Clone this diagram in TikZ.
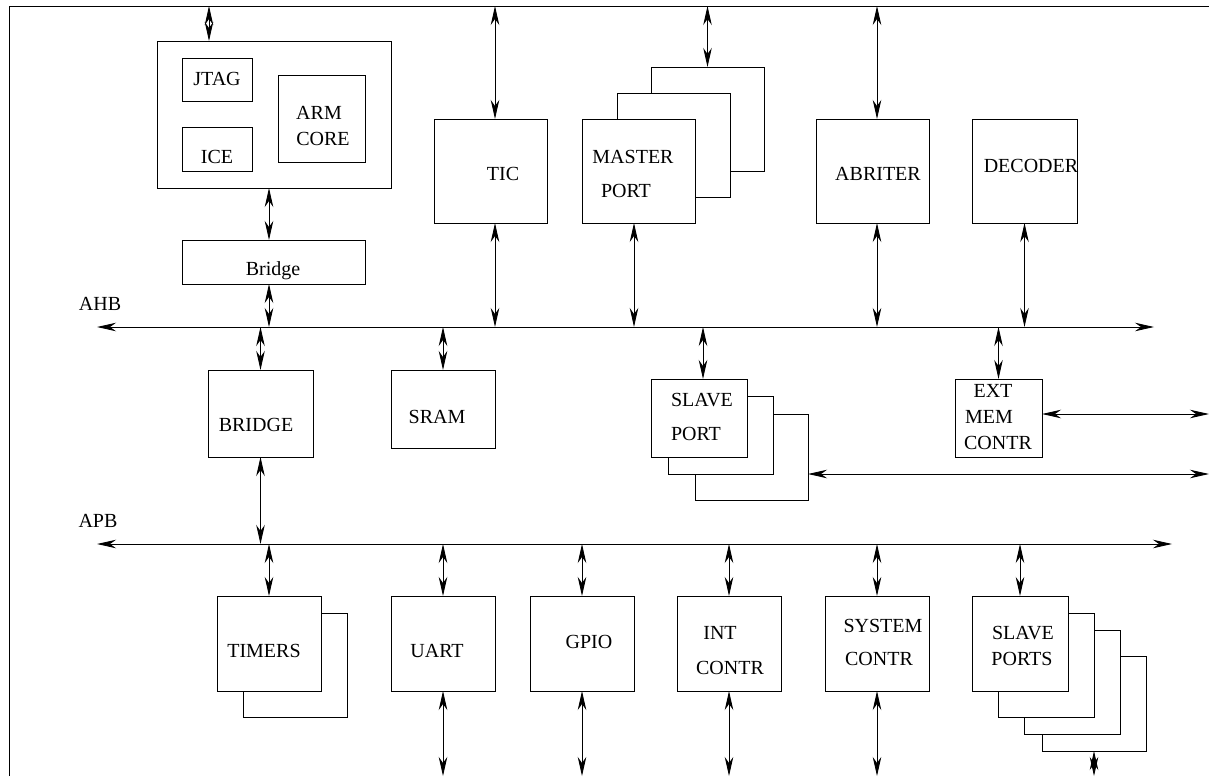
\documentclass[tikz,border=0pt]{standalone}
\usepackage{fontspec}
\setmainfont{Liberation Serif}
\usetikzlibrary{arrows.meta}

\begin{document}
\begin{tikzpicture}[x=1pt,y=-1pt,line width=0.9pt,
  box/.style={draw,fill=white,inner sep=0pt,outer sep=0pt},
  lbl/.style={anchor=base,inner sep=0pt,font=\fontsize{20}{24}\selectfont},
  link/.style={{Stealth[length=19pt,width=8.5pt,inset=6pt]}-{Stealth[length=19pt,width=8.5pt,inset=6pt]}}]
\useasboundingbox (0,0) rectangle (1209,776);

% frame
\draw (9,776) -- (9,6) -- (1209,6);

\coordinate (top) at (0,6);
\coordinate (bot) at (0,776);
\coordinate (rgt) at (1209,0);
\coordinate (coretop) at (209,6);

% buses
\coordinate (ahbL) at (97,327);
\coordinate (ahbR) at (1154,327);
\coordinate (apbL) at (97,544);
\coordinate (apbR) at (1172,544);
\draw[link] (ahbL) -- (ahbR);
\draw[link] (apbL) -- (apbR);
\node[lbl] (ahb) at (100,310) {AHB};
\node[lbl] (apb) at (98,527) {APB};

% arm core
\node[box,minimum width=234pt,minimum height=147pt] (core) at (274,114.5) {};
\node[box,minimum width=70pt,minimum height=43pt] (jtag) at (217,79.5) {};
\node[box,minimum width=70pt,minimum height=44pt] (ice) at (217,149) {};
\node[box,minimum width=87pt,minimum height=87pt] (arm) at (321.5,118.5) {};
\node[lbl] (t-jtag) at (217,85) {JTAG};
\node[lbl] (t-ice) at (217,163) {ICE};
\node[lbl] (t-arm) at (319,119) {ARM};
\node[lbl] (t-core) at (323,145) {CORE};
\node[box,minimum width=183pt,minimum height=44pt] (bridgeA) at (273.5,262) {};
\node[lbl] (t-bridgeA) at (273,275) {Bridge};

% ahb masters
\node[box,minimum width=113pt,minimum height=104pt] (tic) at (490.5,171) {};
\node[lbl] (t-tic) at (503,180) {TIC};
\node[box,minimum width=113pt,minimum height=104pt] (mport3) at (707.5,119) {};
\node[box,minimum width=113pt,minimum height=104pt] (mport2) at (673.5,145) {};
\node[box,minimum width=113pt,minimum height=104pt] (mport1) at (638.5,171) {};
\node[lbl] (t-master) at (633,163) {MASTER};
\node[lbl] (t-mport) at (626,197) {PORT};
\node[box,minimum width=113pt,minimum height=104pt] (arbiter) at (872.5,171) {};
\node[lbl] (t-arbiter) at (878,180) {ABRITER};
\node[box,minimum width=105pt,minimum height=104pt] (decoder) at (1024.5,171) {};
\node[lbl] (t-decoder) at (1031,172) {DECODER};

% ahb slaves
\node[box,minimum width=105pt,minimum height=87pt] (bridge) at (260.5,413.5) {};
\node[lbl] (t-bridge) at (256,431) {BRIDGE};
\node[box,minimum width=104pt,minimum height=78pt] (sram) at (443,409) {};
\node[lbl] (t-sram) at (437,423) {SRAM};
\node[box,minimum width=113pt,minimum height=86pt] (sport3) at (751.5,457) {};
\node[box,minimum width=105pt,minimum height=78pt] (sport2) at (720.5,435) {};
\node[box,minimum width=96pt,minimum height=78pt] (sport1) at (699,418) {};
\node[lbl] (t-slave) at (702,406) {SLAVE};
\node[lbl] (t-sport) at (696,440) {PORT};
\node[box,minimum width=87pt,minimum height=78pt] (extmem) at (998.5,418) {};
\node[lbl] (t-ext) at (993,397) {EXT};
\node[lbl] (t-mem) at (989,423) {MEM};
\node[lbl] (t-emc) at (998,449) {CONTR};

% apb peripherals
\node[box,minimum width=104pt,minimum height=104pt] (timers2) at (295,665) {};
\node[box,minimum width=104pt,minimum height=95pt] (timers1) at (269,643.5) {};
\node[lbl] (t-timers) at (264,657) {TIMERS};
\node[box,minimum width=104pt,minimum height=95pt] (uart) at (443,643.5) {};
\node[lbl] (t-uart) at (437,657) {UART};
\node[box,minimum width=104pt,minimum height=95pt] (gpio) at (582,643.5) {};
\node[lbl] (t-gpio) at (589,648) {GPIO};
\node[box,minimum width=104pt,minimum height=95pt] (intc) at (729,643.5) {};
\node[lbl] (t-int) at (720,639) {INT};
\node[lbl] (t-intc) at (730,674) {CONTR};
\node[box,minimum width=104pt,minimum height=95pt] (sysc) at (877,643.5) {};
\node[lbl] (t-system) at (883,632) {SYSTEM};
\node[lbl] (t-sysc) at (879,665) {CONTR};
\node[box,minimum width=104pt,minimum height=95pt] (sports4) at (1094,703.5) {};
\node[box,minimum width=96pt,minimum height=104pt] (sports3) at (1072,682) {};
\node[box,minimum width=96pt,minimum height=104pt] (sports2) at (1046,665) {};
\node[box,minimum width=96pt,minimum height=95pt] (sports1) at (1020,643.5) {};
\node[lbl] (t-slaves) at (1023,639) {SLAVE};
\node[lbl] (t-sports) at (1022,665) {PORTS};

% links
\coordinate (coreout) at ([xshift=-5pt]core.south);
\coordinate (ticin) at ([xshift=4.5pt]tic.north);
\coordinate (ticout) at ([xshift=4.5pt]tic.south);
\coordinate (mportout) at ([xshift=-4.5pt]mport1.south);
\coordinate (arbin) at ([xshift=4.5pt]arbiter.north);
\coordinate (arbout) at ([xshift=4.5pt]arbiter.south);
\coordinate (sportin) at ([xshift=4pt]sport1.north);
\coordinate (spout) at ([yshift=-17pt]sport3.east);
\coordinate (emcout) at ([yshift=4pt]extmem.east);

\draw[link] (coretop) -- (coretop |- core.north);
\draw[link] (coreout) -- (coreout |- bridgeA.north);
\draw[link] (coreout |- bridgeA.south) -- (coreout |- ahbL);
\draw[link] (ticin |- top) -- (ticin);
\draw[link] (ticout) -- (ticout |- ahbL);
\draw[link] (mport3.north |- top) -- (mport3.north);
\draw[link] (mportout) -- (mportout |- ahbL);
\draw[link] (arbin |- top) -- (arbin);
\draw[link] (arbout) -- (arbout |- ahbL);
\draw[link] (decoder.south) -- (decoder.south |- ahbL);

\draw[link] (bridge.north |- ahbL) -- (bridge.north);
\draw[link] (bridge.south) -- (bridge.south |- apbL);
\draw[link] (sram.north |- ahbL) -- (sram.north);
\draw[link] (sportin |- ahbL) -- (sportin);
\draw[link] (spout) -- (spout -| rgt);
\draw[link] (extmem.north |- ahbL) -- (extmem.north);
\draw[link] (emcout) -- (emcout -| rgt);

\draw[link] (timers1.north |- apbL) -- (timers1.north);
\draw[link] (uart.north |- apbL) -- (uart.north);
\draw[link] (uart.south) -- (uart.south |- bot);
\draw[link] (gpio.north |- apbL) -- (gpio.north);
\draw[link] (gpio.south) -- (gpio.south |- bot);
\draw[link] (intc.north |- apbL) -- (intc.north);
\draw[link] (intc.south) -- (intc.south |- bot);
\draw[link] (sysc.north |- apbL) -- (sysc.north);
\draw[link] (sysc.south) -- (sysc.south |- bot);
\draw[link] (sports1.north |- apbL) -- (sports1.north);
\draw[link] (sports4.south) -- (sports4.south |- bot);
\end{tikzpicture}
\end{document}
